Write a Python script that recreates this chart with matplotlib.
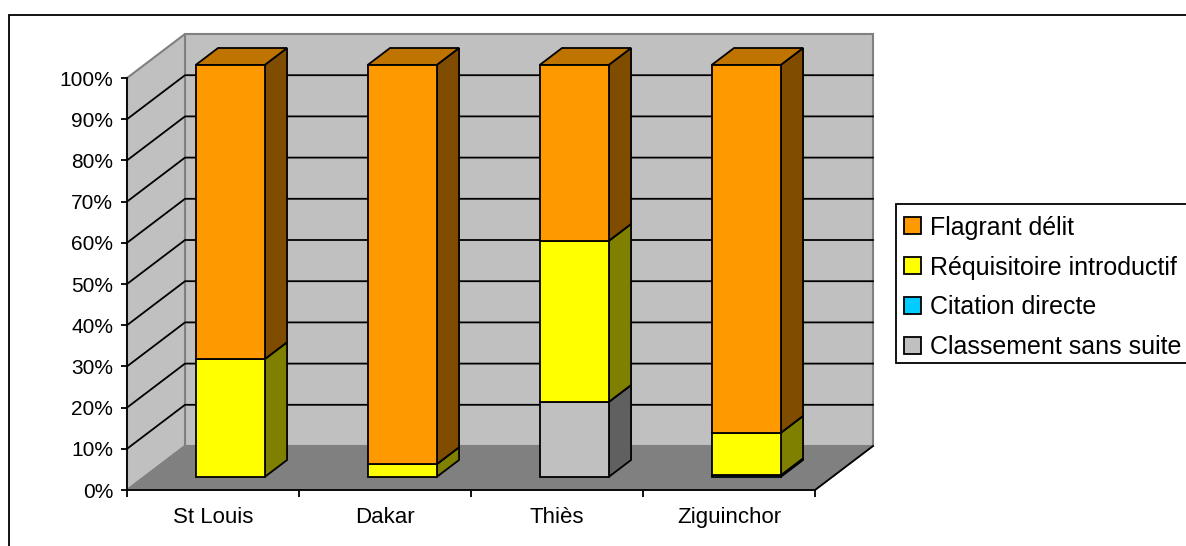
import matplotlib
matplotlib.use('Agg')
import matplotlib.pyplot as plt
from matplotlib.patches import Polygon, Patch, Rectangle
import numpy as np

plt.rcParams['font.family'] = ['Liberation Sans', 'DejaVu Sans']

# Data (percent of each city's total)
cities = ['St Louis', 'Dakar', 'Thiès', 'Ziguinchor']
classement = [0.0, 0.0, 18.2, 0.0]
citation = [0.0, 0.0, 0.0, 0.4]
requisitoire = [28.6, 3.1, 39.1, 10.3]
flagrant = [71.4, 96.9, 42.7, 89.3]

# bottom to top of the stack
series = [classement, citation, requisitoire, flagrant]
colors = ['#C0C0C0', '#00CCFF', '#FFFF00', '#FF9900']
sides = ['#606060', '#006680', '#808000', '#7F4C00']
tops = ['#909090', '#0099BF', '#BFBF00', '#BF7300']
names = ['Flagrant délit', 'Réquisitoire introductif', 'Citation directe', 'Classement sans suite']

W, H = 1186, 546
fig = plt.figure(figsize=(W / 100, H / 100), dpi=100)
fig.patch.set_facecolor('white')

# axes box is the front plane of the fake 3D chart
ax = fig.add_axes([127 / W, 1 - 490 / H, 688 / W, 412 / H])
ax.set_xlim(0, 4)
ax.set_ylim(0, 100)
ax.patch.set_visible(False)

# depth offset of the back wall, in data units
depth_x = 58 / 172
depth_y = 44 / 4.12


def proj(x, y, d):
    return (x + d * depth_x, y + d * depth_y)


def poly(points, face, edge='black', lw=1.3, z=1):
    ax.add_patch(Polygon(points, closed=True, facecolor=face, edgecolor=edge,
                         linewidth=lw, zorder=z, clip_on=False, joinstyle='miter'))


# walls and floor
poly([proj(0, 0, 1), proj(4, 0, 1), proj(4, 100, 1), proj(0, 100, 1)], '#C0C0C0', '#808080', 1.5)
poly([proj(0, 0, 0), proj(0, 0, 1), proj(0, 100, 1), proj(0, 100, 0)], '#C0C0C0', '#808080', 1.5)

# gridlines on both walls
y_ticks = np.arange(0, 101, 10)
for y in y_ticks[1:-1]:
    ax.plot(*zip(proj(0, y, 0), proj(0, y, 1), proj(4, y, 1)), color='black', lw=1.3,
            zorder=2, clip_on=False)

poly([proj(0, 0, 0), proj(4, 0, 0), proj(4, 0, 1), proj(0, 0, 1)], '#808080', '#808080', 1.2, 3)
ax.plot(*zip(proj(4, 0, 0), proj(4, 0, 1)), color='black', lw=1.3, zorder=4, clip_on=False)

# stacked 3D bars
bar_w = 69 / 172
d0, d1 = 13 / 44, 30 / 44
for i in range(len(cities)):
    x0 = i + 0.5 - bar_w / 2
    x1 = x0 + bar_w
    base = 0.0
    for vals, c, s, t in zip(series, colors, sides, tops):
        v = vals[i]
        if v <= 0:
            continue
        top = base + v
        poly([proj(x0, base, d0), proj(x1, base, d0), proj(x1, top, d0), proj(x0, top, d0)], c, z=6)
        poly([proj(x1, base, d0), proj(x1, base, d1), proj(x1, top, d1), proj(x1, top, d0)], s, z=5)
        poly([proj(x0, top, d0), proj(x1, top, d0), proj(x1, top, d1), proj(x0, top, d1)], t, z=5)
        base = top

# axes, ticks
for side in ['top', 'right']:
    ax.spines[side].set_visible(False)
for side in ['left', 'bottom']:
    ax.spines[side].set_linewidth(1.3)
    ax.spines[side].set_zorder(7)
ax.set_yticks(y_ticks)
ax.set_yticklabels(['%d%%' % y for y in y_ticks], fontsize=15)
ax.tick_params(axis='y', length=4, width=1.3, pad=6)
ax.set_xticks(range(5))
ax.set_xticklabels([])
ax.set_xticks(np.arange(len(cities)) + 0.5, minor=True)
ax.set_xticklabels(cities, minor=True, fontsize=16)
ax.tick_params(axis='x', which='major', length=5, width=1.3)
ax.tick_params(axis='x', which='minor', length=0, pad=12)

# outer frame runs off the right and bottom of the picture
fig.add_artist(Rectangle((8.5 / W, -0.05), 1.1, 1 - 14.5 / H + 0.05, transform=fig.transFigure,
                         facecolor='none', edgecolor='black', linewidth=1.3))

# legend box also runs off the right side
fig.add_artist(Rectangle((896 / W, 1 - 363 / H), 0.3, 159 / H, transform=fig.transFigure,
                         facecolor='white', edgecolor='black', linewidth=1.3))
handles = [Patch(facecolor=c, edgecolor='black', linewidth=1.3) for c in colors[::-1]]
fig.legend(handles, names, loc='center left', bbox_to_anchor=(904 / W, 1 - 287.5 / H),
           frameon=False, fontsize=18, handlelength=0.68, handleheight=0.68,
           handletextpad=0.36, labelspacing=0.64, borderaxespad=0, borderpad=0)

fig.savefig('out.png', dpi=100)
